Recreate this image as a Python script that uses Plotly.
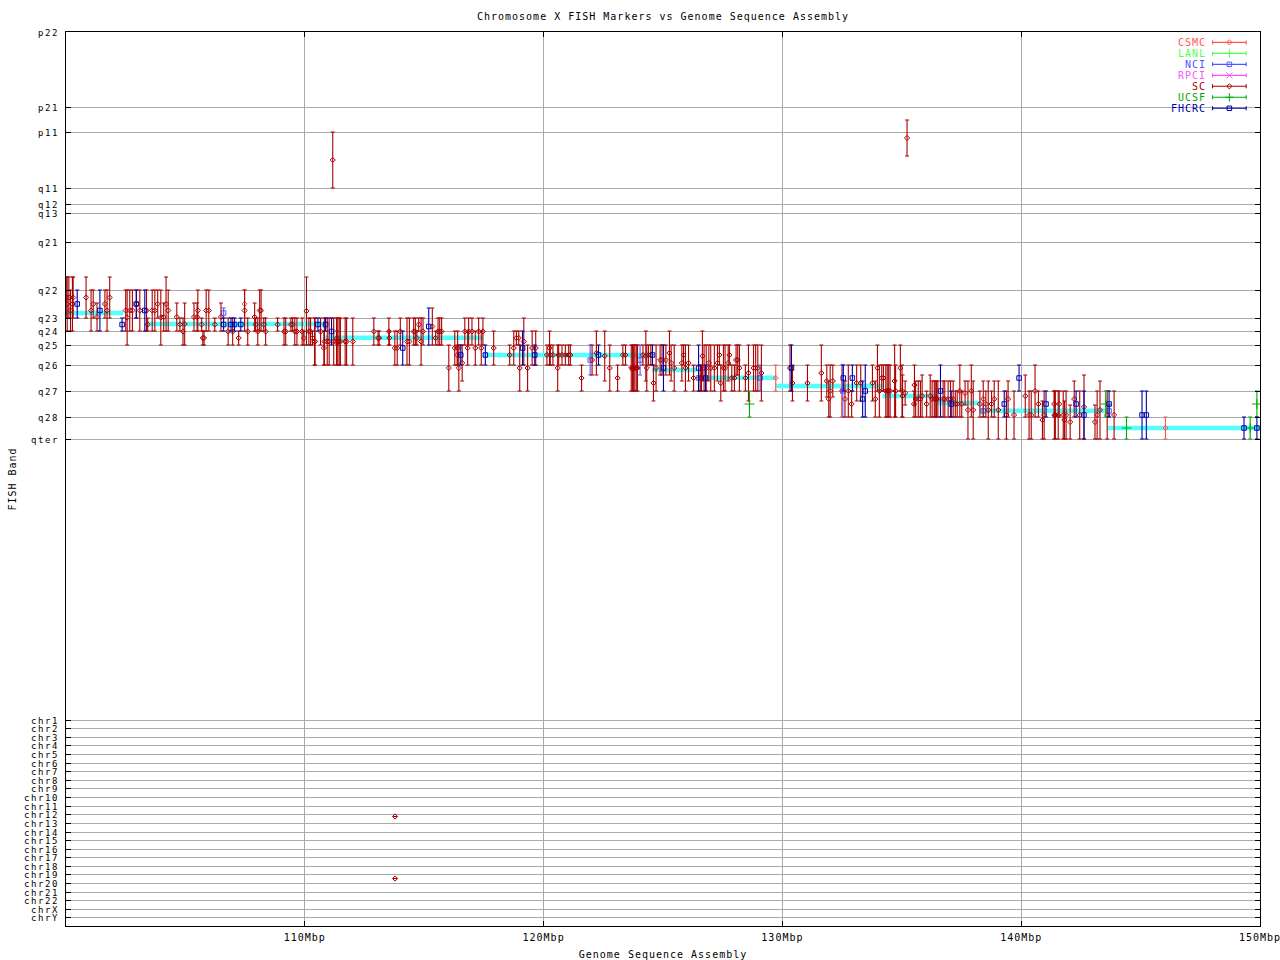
import plotly.graph_objects as go

TITLE = "Chromosome X FISH Markers vs Genome Sequence Assembly"
X_TICKS = [110, 120, 130, 140, 150]
X_LABELS = ["110Mbp", "120Mbp", "130Mbp", "140Mbp", "150Mbp"]

# position of each FISH band / chromosome on the vertical scale
BAND_LABELS = ["p22", "p21", "p11", "q11", "q12", "q13", "q21", "q22", "q23", "q24", "q25", "q26", "q27", "q28", "qter"]
BAND_POS = [0, 75, 100, 156, 172, 181, 210, 258, 286, 299, 313, 333, 359, 385, 407]
CHR_LABELS = ["chr1", "chr2", "chr3", "chr4", "chr5", "chr6", "chr7", "chr8", "chr9", "chr10", "chr11", "chr12",
              "chr13", "chr14", "chr15", "chr16", "chr17", "chr18", "chr19", "chr20", "chr21", "chr22", "chrX", "chrY"]
CHR_POS = [688.5, 696.7, 705.5, 713.5, 722.5, 731, 739.5, 748, 756.5, 765.5, 774.5, 782.5,
           791.5, 800, 808.5, 817.5, 825.5, 834.5, 842.5, 851.5, 860.5, 868.5, 877.5, 885.5]

# assembly band segments: start Mbp, end Mbp, band position
ASSEMBLY_START = [99.9, 103.4, 110.82, 117.46, 124.53, 126.43, 129.72, 134.2, 136.5, 138.27, 143.62]
ASSEMBLY_END = [102.4, 110.85, 117.46, 124.53, 126.43, 129.76, 134.2, 136.5, 138.27, 143.62, 150.05]
ASSEMBLY_POS = [281, 292, 305.7, 323, 338, 345.7, 354, 364, 371, 378.7, 396]

# markers: (Mbp, band range start, band range end)
SC = [
    (100.01,245,286),(100.05,245,299),(100.12,245,286),(100.19,258,299),(100.27,245,299),(100.30,245,286),
    (100.84,245,286),(101.05,258,299),(101.14,258,286),(101.30,271,299),(101.63,258,286),(101.72,258,299),
    (101.83,245,286),(102.50,258,299),(102.56,258,313),(102.67,258,299),(102.78,258,299),(102.95,258,286),
    (103.09,258,299),(103.37,258,299),(103.42,286,299),(103.61,258,299),(103.72,258,299),(103.84,258,286),
    (103.97,258,313),(104.09,271,299),(104.19,245,299),(104.28,258,299),(104.64,271,299),(104.77,286,299),
    (104.90,286,313),(104.97,271,313),(105.36,271,299),(105.49,271,299),(105.52,258,299),(105.68,286,299),
    (105.73,299,313),(105.78,299,313),(105.87,258,299),(105.98,258,299),(106.23,286,299),(106.49,271,299),
    (106.79,286,313),(106.98,286,313),(107.23,299,313),(107.48,258,299),(107.61,286,313),(107.90,271,299),
    (107.94,286,299),(108.03,286,313),(108.11,258,299),(108.17,258,299),(108.28,286,299),(108.36,286,313),
    (108.86,286,299),(109.13,286,313),(109.20,286,313),(109.42,286,299),(109.49,286,299),(109.58,286,313),
    (109.67,286,313),(109.89,286,313),(109.96,299,313),(110.07,245,313),(110.17,286,313),(110.24,286,313),
    (110.32,299,313),(110.41,286,333),(110.43,286,333),(110.66,286,313),(110.80,299,333),(110.82,286,333),
    (110.94,286,333),(111.02,286,333),(111.21,286,333),(111.33,286,333),(111.35,299,313),(111.38,286,333),
    (111.44,286,333),(111.49,286,333),(111.69,286,333),(111.75,286,333),(112.01,286,333),(112.89,286,313),
    (113.07,299,313),(113.11,299,313),(113.52,286,313),(113.54,299,313),(113.77,299,333),(113.87,299,333),
    (114.00,286,313),(114.28,286,333),(114.38,286,333),(114.56,286,313),(114.63,286,313),(114.69,299,313),
    (114.77,286,299),(114.87,286,333),(114.95,286,313),(115.34,276,313),(115.48,299,313),(115.58,286,313),
    (115.65,286,313),(115.73,286,313),(116.03,313,359),(116.28,299,333),(116.38,313,333),(116.40,299,333),
    (116.45,313,359),(116.59,313,349),(116.70,286,313),(116.82,299,333),(116.86,286,313),(117.00,286,313),
    (117.14,299,333),(117.28,286,313),(117.39,299,333),(117.46,286,313),(117.91,299,333),(118.58,313,333),
    (118.75,299,333),(118.86,299,313),(118.96,299,313),(119.00,313,359),(119.17,286,333),(119.33,313,359),
    (119.52,299,333),(119.67,299,333),(120.14,313,333),(120.25,299,333),(120.28,313,333),(120.39,313,333),
    (120.59,313,359),(120.63,313,333),(120.77,313,333),(120.91,313,333),(121.05,313,333),(121.12,313,333),
    (121.59,333,359),(122.03,313,343),(122.21,299,343),(122.56,299,349),(122.77,313,359),(123.10,333,359),
    (123.32,313,333),(123.43,313,333),(123.67,313,359),(123.72,313,359),(123.77,313,359),(123.82,313,359),
    (123.88,313,359),(123.93,313,359),(124.16,313,333),(124.28,299,349),(124.32,313,359),(124.39,313,333),
    (124.49,313,333),(124.60,333,369),(124.71,313,359),(124.88,313,343),(124.96,313,343),(125.12,313,343),
    (125.27,299,343),(125.34,313,349),(125.47,313,359),(125.79,313,349),(125.86,313,333),(125.94,313,359),
    (126.07,313,349),(126.28,333,359),(126.56,333,359),(126.61,333,359),(126.65,299,349),(126.72,313,359),
    (126.81,313,359),(126.92,313,349),(127.00,313,359),(127.15,313,359),(127.28,313,349),(127.36,313,333),
    (127.42,333,369),(127.53,313,359),(127.60,313,359),(127.73,313,349),(127.78,313,333),(127.88,333,359),
    (127.99,333,359),(128.06,313,343),(128.13,313,343),(128.20,313,359),(128.45,333,359),(128.58,313,369),
    (128.79,313,359),(128.88,313,359),(128.97,313,359),(129.12,313,369),(130.32,313,359),(130.42,333,369),
    (131.05,333,369),(131.63,313,369),(131.86,333,365),(131.94,349,385),(132.00,333,385),(132.11,333,365),
    (132.62,349,385),(132.76,333,385),(132.90,359,385),(133.11,333,369),(133.28,333,369),(133.77,333,369),
    (133.89,349,385),(133.98,313,359),(134.06,333,385),(134.16,333,359),(134.23,333,359),(134.33,333,385),
    (134.39,333,385),(134.45,333,385),(134.51,333,385),(134.70,313,385),(134.74,333,385),(134.94,313,359),
    (135.01,333,385),(135.03,343,385),(135.14,349,373),(135.51,359,385),(135.53,333,373),(135.58,349,385),
    (135.69,349,385),(135.78,349,385),(135.85,343,385),(136.04,359,385),(136.19,343,385),(136.27,349,385),
    (136.36,349,385),(136.40,349,385),(136.45,349,385),(136.51,349,385),(136.73,349,385),(136.80,349,385),
    (136.94,349,385),(137.04,349,385),(137.15,349,385),(137.24,359,385),(137.32,359,385),(137.43,333,385),
    (137.51,359,385),(137.65,349,373),(137.77,349,407),(137.91,333,385),(137.99,349,407),(138.27,359,385),
    (138.41,349,385),(138.52,359,385),(138.62,349,407),(138.76,359,385),(138.87,349,385),(139.04,349,407),
    (139.38,359,407),(139.45,349,385),(139.70,359,407),(140.17,343,385),(140.33,359,407),(140.42,359,407),
    (140.58,333,385),(140.72,359,385),(140.89,369,407),(140.96,359,407),(141.38,359,385),(141.39,359,407),
    (141.43,359,407),(141.55,359,407),(141.59,359,385),(141.76,359,407),(141.81,369,407),(141.88,359,407),
    (142.05,373,407),(142.22,349,385),(142.45,359,407),(142.63,343,407),(143.09,373,407),(143.18,359,407),
    (143.30,349,407),(143.60,359,407),(143.89,359,407),
    (111.17,100,156),(135.22,88,124),(113.78,784.5,784.5),(113.78,846.5,846.5),
]
FHCRC = [
    (100.47,258,286),(101.42,258,299),(102.35,286,299),(102.94,258,286),(103.30,258,299),(106.60,286,299),
    (106.91,286,299),(107.06,286,299),(107.32,286,299),(110.55,286,299),(110.87,286,299),(111.12,286,313),
    (114.10,299,333),(115.19,276,313),(116.53,313,333),(117.56,313,333),(119.12,299,333),(119.63,313,333),
    (122.30,313,333),(124.56,313,333),(125.02,313,359),(126.49,313,359),(126.78,333,359),(130.38,313,359),
    (132.55,333,359),(132.93,333,359),(133.36,349,385),(133.47,333,385),(136.62,333,385),(137.07,359,385),
    (139.29,359,385),(139.91,333,359),(141.04,359,385),(142.30,359,385),(142.63,359,407),(143.68,359,385),
    (145.06,359,407),(145.24,359,407),(149.33,385,407),(149.87,385,407),
]
NCI = [(106.60,276,286),(121.95,313,343),(124.04,313,343),(126.49,333,359),(129.07,333,359),(132.53,333,385),
       (138.41,373,385),(143.68,373,385)]
CSMC = [(107.48,258,286),(129.72,333,359),(132.48,333,385),(146.04,385,407)]
UCSF = [(128.62,359,385),(143.54,359,385),(144.41,385,407),(149.59,385,407),(149.87,359,385)]

LEGEND_NAMES = ["CSMC", "LANL", "NCI", "RPCI", "SC", "UCSF", "FHCRC"]
LEGEND_COLORS = ["#FF5555", "#55FF55", "#5555FF", "#FF55FF", "#AA0000", "#00AA00", "#0000AA"]
LEGEND_SYMBOLS = ["diamond-open", "cross-thin-open", "square-open", "x-thin-open", "diamond-open", "cross-thin-open", "square-open"]

FONT = "DejaVu Sans Mono"


def wide(text, size=10, spacing=1.0):
    return f'<span style="font-size:{size}px;letter-spacing:{spacing}px">{text}</span>'


fig = go.Figure()

# assembly band segments
seg_x, seg_y = [], []
for a, b, p in zip(ASSEMBLY_START, ASSEMBLY_END, ASSEMBLY_POS):
    seg_x += [a, b, None]
    seg_y += [p, p, None]
fig.add_trace(go.Scatter(x=seg_x, y=seg_y, mode="lines", line=dict(color="#55FFFF", width=4.5),
                         cliponaxis=False, showlegend=False, hoverinfo="skip"))


def add_series(rows, color, symbol, size, name):
    fig.add_trace(go.Scatter(
        x=[r[0] for r in rows],
        y=[(r[1] + r[2]) / 2 for r in rows],
        mode="markers",
        name=name,
        showlegend=False,
        marker=dict(symbol=symbol, size=size, color=color, line=dict(color=color, width=1)),
        error_y=dict(type="data", symmetric=True, array=[(r[2] - r[1]) / 2 for r in rows],
                     color=color, thickness=1.1, width=2),
    ))


add_series(CSMC, "#FF5555", "diamond-open", 4, "CSMC")
add_series(NCI, "#5555FF", "square-open", 4.5, "NCI")
add_series(SC, "#AA0000", "diamond-open", 4, "SC")
add_series(UCSF, "#00AA00", "cross-thin-open", 7, "UCSF")
add_series(FHCRC, "#0000AA", "square-open", 4.5, "FHCRC")

# legend block, laid out on a hidden overlay scale of the same size as the plot
KEY_LEFT, KEY_RIGHT, KEY_TOP, KEY_STEP, TEXT_RIGHT = 1213, 1246.7, 42.4, 10.98, 1208
for i, (nm, col, sym) in enumerate(zip(LEGEND_NAMES, LEGEND_COLORS, LEGEND_SYMBOLS)):
    yy = KEY_TOP + i * KEY_STEP
    fig.add_trace(go.Scatter(
        x=[(KEY_LEFT + KEY_RIGHT) / 2], y=[yy], xaxis="x2", yaxis="y2", mode="markers",
        marker=dict(symbol=sym, size=4.5 if "square" in sym else 4 if "diamond" in sym else 6,
                    color=col, line=dict(color=col, width=1)),
        error_x=dict(type="constant", value=(KEY_RIGHT - KEY_LEFT) / 2, color=col, thickness=1.1, width=2),
        showlegend=False, hoverinfo="skip"))
    fig.add_annotation(x=TEXT_RIGHT, y=yy, xref="x2", yref="y2", text=wide(nm), showarrow=False, xanchor="right",
                       font=dict(family=FONT, size=10, color=col))

# vertical axis title, left of the tick labels
fig.add_annotation(x=-0.0456, y=0.5, xref="paper", yref="paper", text=wide("FISH Band"),
                   textangle=-90, showarrow=False, xanchor="center", yanchor="middle",
                   font=dict(family=FONT, size=10, color="black"))

axis_common = dict(showline=True, linecolor="black", linewidth=1, mirror="ticks", ticks="inside", ticklen=5,
                   tickcolor="black", tickwidth=1, showgrid=True, gridcolor="#A9A9A9", gridwidth=1, zeroline=False,
                   automargin=False, ticklabeloverflow="allow", tickfont=dict(family=FONT, size=10, color="black"))

fig.update_layout(
    width=1280, height=960, autosize=False,
    margin=dict(l=65.5, r=19.5, t=32, b=34, pad=0),
    paper_bgcolor="white", plot_bgcolor="white",
    title=dict(text=wide(TITLE), x=663 / 1280, y=1 - 16 / 960, xanchor="center", yanchor="middle",
               font=dict(family=FONT, size=10, color="black")),
    xaxis=dict(range=[100, 150], tickvals=X_TICKS, ticktext=[wide(t) for t in X_LABELS], **axis_common,
               ticklabelstandoff=2,
               title=dict(text=wide("Genome Sequence Assembly"), standoff=8, font=dict(family=FONT, size=10, color="black"))),
    yaxis=dict(range=[894, 0], tickvals=BAND_POS + CHR_POS,
               ticktext=[wide(t, 9, 1.6) for t in BAND_LABELS + CHR_LABELS], **axis_common,
               ticklabelstandoff=4),
    xaxis2=dict(range=[65.5, 1260.5], overlaying="x", visible=False),
    yaxis2=dict(range=[926, 32], overlaying="y", visible=False),
    shapes=[dict(type="rect", xref="x2", yref="y2", x0=1165, x1=1253, y0=36, y1=113,
                 fillcolor="white", line=dict(width=0), layer="below")],
)

fig.write_html("out.html", config={"displayModeBar": False}, post_script="document.body.style.margin='0';")
